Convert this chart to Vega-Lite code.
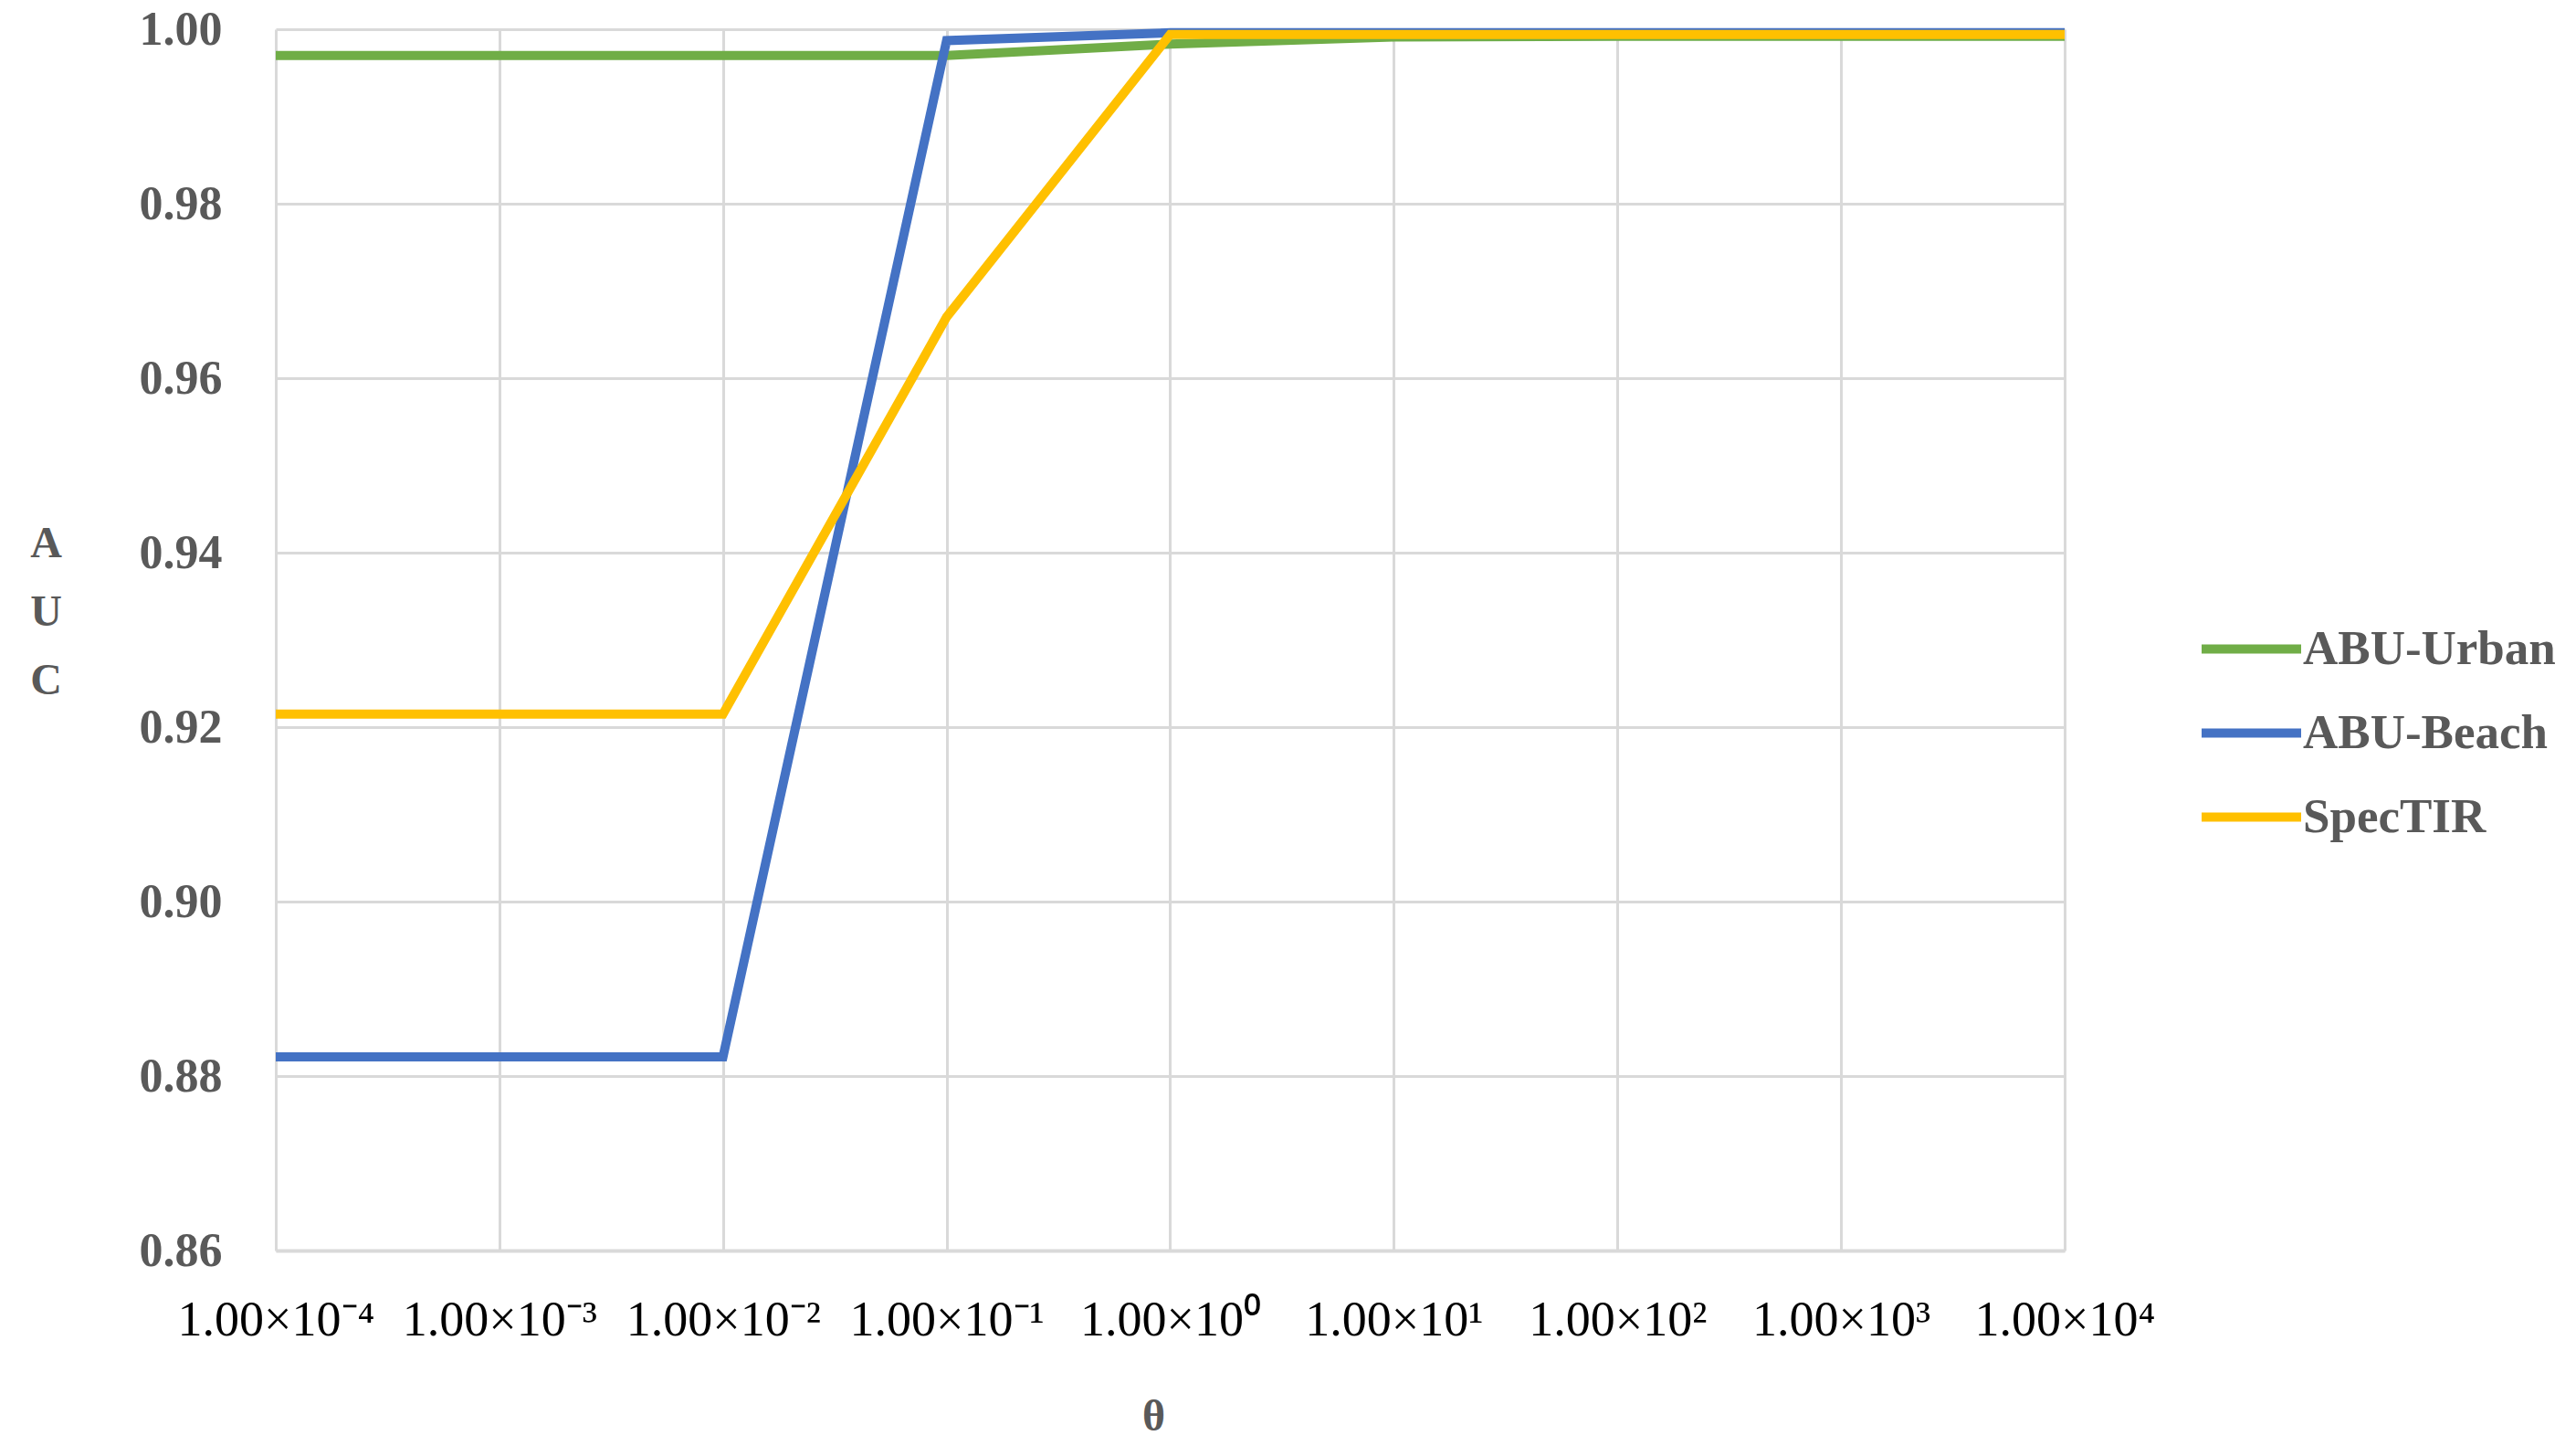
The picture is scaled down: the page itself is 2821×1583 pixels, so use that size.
{
  "$schema": "https://vega.github.io/schema/vega-lite/v6.json",
  "autosize": {"type": "none"},
  "width": 1959,
  "height": 1337,
  "padding": {"left": 302, "top": 32, "right": 560, "bottom": 214},
  "background": "white",
  "data": {"values": [
    {"theta": 0.0001, "auc": 0.9970, "dataset": "ABU-Urban"},
    {"theta": 0.001, "auc": 0.9970, "dataset": "ABU-Urban"},
    {"theta": 0.01, "auc": 0.9970, "dataset": "ABU-Urban"},
    {"theta": 0.1, "auc": 0.9970, "dataset": "ABU-Urban"},
    {"theta": 1, "auc": 0.9983, "dataset": "ABU-Urban"},
    {"theta": 10, "auc": 0.9991, "dataset": "ABU-Urban"},
    {"theta": 100, "auc": 0.9992, "dataset": "ABU-Urban"},
    {"theta": 1000, "auc": 0.9992, "dataset": "ABU-Urban"},
    {"theta": 10000, "auc": 0.9992, "dataset": "ABU-Urban"},
    {"theta": 0.0001, "auc": 0.8822, "dataset": "ABU-Beach"},
    {"theta": 0.001, "auc": 0.8822, "dataset": "ABU-Beach"},
    {"theta": 0.01, "auc": 0.8822, "dataset": "ABU-Beach"},
    {"theta": 0.1, "auc": 0.9987, "dataset": "ABU-Beach"},
    {"theta": 1, "auc": 0.9996, "dataset": "ABU-Beach"},
    {"theta": 10, "auc": 0.9996, "dataset": "ABU-Beach"},
    {"theta": 100, "auc": 0.9996, "dataset": "ABU-Beach"},
    {"theta": 1000, "auc": 0.9996, "dataset": "ABU-Beach"},
    {"theta": 10000, "auc": 0.9996, "dataset": "ABU-Beach"},
    {"theta": 0.0001, "auc": 0.9215, "dataset": "SpecTIR"},
    {"theta": 0.001, "auc": 0.9215, "dataset": "SpecTIR"},
    {"theta": 0.01, "auc": 0.9215, "dataset": "SpecTIR"},
    {"theta": 0.1, "auc": 0.9670, "dataset": "SpecTIR"},
    {"theta": 1, "auc": 0.9994, "dataset": "SpecTIR"},
    {"theta": 10, "auc": 0.9994, "dataset": "SpecTIR"},
    {"theta": 100, "auc": 0.9994, "dataset": "SpecTIR"},
    {"theta": 1000, "auc": 0.9994, "dataset": "SpecTIR"},
    {"theta": 10000, "auc": 0.9994, "dataset": "SpecTIR"}
  ]},
  "mark": {"type": "line", "strokeWidth": 10, "strokeJoin": "miter", "clip": false},
  "encoding": {
    "x": {
      "field": "theta",
      "type": "quantitative",
      "scale": {"type": "log", "domain": [0.0001, 10000], "nice": false},
      "axis": {
        "values": [0.0001, 0.001, 0.01, 0.1, 1, 10, 100, 1000, 10000],
        "labelExpr": "'1.00×10' + ['⁻⁴','⁻³','⁻²','⁻¹','⁰','¹','²','³','⁴'][round(log(datum.value)/LN10) + 4]",
        "grid": true,
        "gridColor": "#d9d9d9",
        "gridWidth": 3,
        "domain": true,
        "domainColor": "#d9d9d9",
        "domainWidth": 4,
        "ticks": false,
        "labelFont": "Liberation Serif",
        "labelFontSize": 54,
        "labelColor": "#000000",
        "labelBaseline": "middle",
        "labelPadding": 76,
        "labelFlush": false,
        "labelOverlap": false,
        "labelLimit": 500,
        "title": "θ",
        "titleFont": "Liberation Serif",
        "titleFontSize": 48,
        "titleFontWeight": "bold",
        "titleColor": "#595959",
        "titleX": 961,
        "titleY": 182,
        "titleBaseline": "middle",
        "titleAlign": "center"
      }
    },
    "y": {
      "field": "auc",
      "type": "quantitative",
      "scale": {"domain": [0.86, 1.0], "nice": false, "zero": false},
      "axis": {
        "values": [0.86, 0.88, 0.9, 0.92, 0.94, 0.96, 0.98, 1.0],
        "format": ".2f",
        "grid": true,
        "gridColor": "#d9d9d9",
        "gridWidth": 3,
        "domain": false,
        "ticks": false,
        "labelFont": "Liberation Serif",
        "labelFontSize": 52,
        "labelFontWeight": "bold",
        "labelColor": "#595959",
        "labelPadding": 59,
        "labelBaseline": "middle",
        "labelFlush": false,
        "labelOverlap": false,
        "title": ["A", "U", "C"],
        "titleFont": "Liberation Serif",
        "titleFontSize": 48,
        "titleFontWeight": "bold",
        "titleColor": "#595959",
        "titleAngle": 0,
        "titleLineHeight": 75,
        "titleX": -252,
        "titleY": 563,
        "titleAlign": "center",
        "titleBaseline": "middle"
      }
    },
    "color": {
      "field": "dataset",
      "type": "nominal",
      "scale": {
        "domain": ["ABU-Urban", "ABU-Beach", "SpecTIR"],
        "range": ["#70ad47", "#4472c4", "#ffc000"]
      },
      "legend": {
        "title": null,
        "orient": "none",
        "legendX": 2104,
        "legendY": 619,
        "symbolType": "stroke",
        "symbolSize": 11881,
        "symbolStrokeWidth": 10,
        "labelFont": "Liberation Serif",
        "labelFontSize": 53,
        "labelFontWeight": "bold",
        "labelColor": "#595959",
        "labelOffset": -3,
        "rowPadding": 5,
        "labelLimit": 600
      }
    }
  },
  "config": {"view": {"stroke": null}}
}
